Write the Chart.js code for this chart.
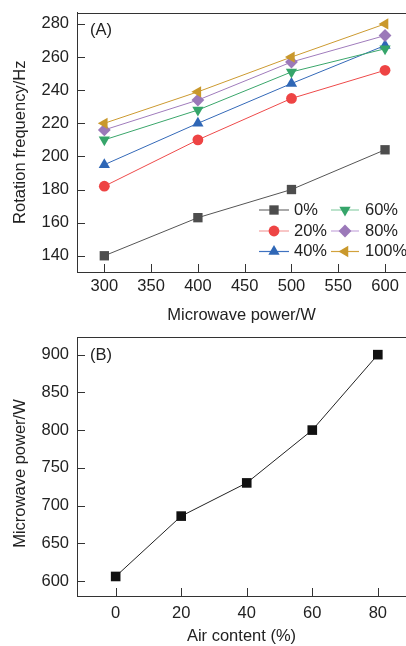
<!DOCTYPE html>
<html><head><meta charset="utf-8">
<script src="https://cdn.jsdelivr.net/npm/chart.js@4.4.1/dist/chart.umd.min.js"></script>
<style>
html,body{margin:0;padding:0;background:#fff;overflow:hidden;width:406px;height:646px;}
canvas{position:absolute;left:0;}
#ca{top:0;}
#cb{top:325px;}
</style></head><body>
<canvas id="ca" width="406" height="325"></canvas>
<canvas id="cb" width="406" height="321"></canvas>
<script>
// ---------- data ----------
const powerW = [300, 400, 500, 600];
const seriesNames = ['0%', '20%', '40%', '60%', '80%', '100%'];
const freq0 = [140, 163, 180, 204];
const freq20 = [182, 210, 235, 252];
const freq40 = [195, 220, 244, 267];
const freq60 = [210, 228, 251, 265];
const freq80 = [216, 234, 257, 273];
const freq100 = [220, 239, 260, 280];
const airContent = [0, 20, 40, 60, 80];
const reqPower = [606, 686, 730, 800, 900];
const ticksAx = [300, 350, 400, 450, 500, 550, 600];
const ticksAy = [140, 160, 180, 200, 220, 240, 260, 280];
const ticksBx = [0, 20, 40, 60, 80];
const ticksBy = [600, 650, 700, 750, 800, 850, 900];

const FONT = '"Liberation Sans", Arial, Helvetica, sans-serif';
const FS = 16.5;
Chart.defaults.font.family = FONT;
Chart.defaults.font.size = FS;
Chart.defaults.color = '#222';

const styles = [
  {color: '#4d4d4d', line: '#555555', leg: '#707070', ps: 'rect', rot: 0, r: 6.6},
  {color: '#ee4444', line: '#ee4a4a', leg: '#f4a0a0', ps: 'circle', rot: 0, r: 5.4},
  {color: '#2f67b6', line: '#3469b8', leg: '#3f72c0', ps: 'triangle', rot: 0, r: 6.5},
  {color: '#36a56a', line: '#3aa66b', leg: '#90d0aa', ps: 'triangle', rot: 180, r: 6.5},
  {color: '#9b79b9', line: '#a07cbc', leg: '#c7a9dc', ps: 'rectRot', rot: 0, r: 6.4},
  {color: '#c9982c', line: '#cc9a30', leg: '#d2a23c', ps: 'triangle', rot: -90, r: 6.5}
];
const seriesA = [freq0, freq20, freq40, freq60, freq80, freq100];

function drawMarker(ctx, style, rot, x, y, r, color) {
  ctx.save();
  ctx.fillStyle = color;
  ctx.translate(x, y);
  ctx.rotate(rot * Math.PI / 180);
  ctx.beginPath();
  if (style === 'rect') { const s = r * Math.SQRT1_2; ctx.rect(-s, -s, 2 * s, 2 * s); }
  else if (style === 'circle') { ctx.arc(0, 0, r, 0, Math.PI * 2); }
  else if (style === 'triangle') {
    for (let k = 0; k < 3; k++) { const a = k * 2 * Math.PI / 3; ctx.lineTo(Math.sin(a) * r, -Math.cos(a) * r); }
  } else if (style === 'rectRot') { ctx.moveTo(0, -r); ctx.lineTo(r, 0); ctx.lineTo(0, r); ctx.lineTo(-r, 0); }
  ctx.closePath();
  ctx.fill();
  ctx.restore();
}

function chromePlugin(label, labelY) {
  return {
    id: 'chrome',
    afterDraw(chart) {
      const {ctx, chartArea: a, scales: {x, y}} = chart;
      ctx.save();
      ctx.strokeStyle = '#333';
      ctx.lineWidth = 1;
      ctx.beginPath();
      const ty = Math.round(a.top) + 0.5;
      ctx.moveTo(a.left, ty); ctx.lineTo(chart.width, ty);
      x.ticks.forEach(t => {
        const px = Math.round(x.getPixelForValue(t.value)) + 0.5;
        ctx.moveTo(px, a.bottom); ctx.lineTo(px, a.bottom - 8);
      });
      y.ticks.forEach(t => {
        const py = Math.round(y.getPixelForValue(t.value)) + 0.5;
        ctx.moveTo(a.left, py); ctx.lineTo(a.left + 8, py);
      });
      ctx.stroke();
      ctx.fillStyle = '#222';
      ctx.font = FS + 'px ' + FONT;
      ctx.textBaseline = 'middle';
      ctx.fillText(label, 90, labelY);
      ctx.restore();
    }
  };
}

const legendPlugin = {
  id: 'insideLegend',
  afterDraw(chart) {
    const ctx = chart.ctx;
    const cols = [{x0: 259, x1: 289, mx: 274, tx: 294}, {x0: 331, x1: 359, mx: 345, tx: 365}];
    const rows = [210, 231, 251.5];
    chart.data.datasets.forEach((ds, i) => {
      const c = cols[Math.floor(i / 3)], yy = rows[i % 3];
      const st = styles[i];
      ctx.save();
      ctx.strokeStyle = st.leg;
      ctx.lineWidth = 1.2;
      ctx.beginPath(); ctx.moveTo(c.x0, yy); ctx.lineTo(c.x1, yy); ctx.stroke();
      drawMarker(ctx, st.ps, st.rot, c.mx, yy, st.r, st.color);
      ctx.fillStyle = '#222';
      ctx.font = FS + 'px ' + FONT;
      ctx.textBaseline = 'middle';
      ctx.fillText(ds.label, c.tx, yy);
      ctx.restore();
    });
  }
};

function zeroPad(s) { s.paddingLeft = 0; s.paddingRight = 0; s.paddingTop = 0; s.paddingBottom = 0; }

function axisX(min, max, ticks, title, pad, height) {
  return {
    type: 'linear', min, max,
    afterBuildTicks: s => { s.ticks = ticks.map(v => ({value: v})); },
    afterFit: s => { s.height = height; zeroPad(s); },
    grid: {display: false, drawTicks: false},
    border: {display: true, color: '#333', width: 1},
    ticks: {padding: pad, color: '#222', maxRotation: 0, autoSkip: false},
    title: {display: true, text: title, color: '#222', padding: {top: 0, bottom: 0}, font: {size: FS, lineHeight: 1.1}}
  };
}
function axisY(min, max, ticks, title) {
  return {
    type: 'linear', min, max,
    afterBuildTicks: s => { s.ticks = ticks.map(v => ({value: v})); },
    afterFit: s => { s.width = 77; zeroPad(s); },
    grid: {display: false, drawTicks: false},
    border: {display: true, color: '#333', width: 1},
    ticks: {padding: 8, color: '#222', autoSkip: false},
    title: {display: true, text: title, color: '#222', padding: {top: 10.5, bottom: 0}, font: {size: FS, lineHeight: 1.2}}
  };
}

// ---------- chart A ----------
new Chart(document.getElementById('ca'), {
  type: 'line',
  data: {
    datasets: seriesA.map((vals, i) => ({
      label: seriesNames[i],
      data: powerW.map((p, k) => ({x: p, y: vals[k]})),
      borderColor: styles[i].line,
      backgroundColor: styles[i].color,
      pointBackgroundColor: styles[i].color,
      borderWidth: 1,
      pointStyle: styles[i].ps,
      pointRotation: styles[i].rot,
      pointRadius: styles[i].r,
      pointBorderWidth: 0,
      pointHoverRadius: styles[i].r,
      order: 6 - i,
      clip: false,
      tension: 0
    }))
  },
  options: {
    responsive: false,
    animation: false,
    layout: {autoPadding: false, padding: {top: 12.5, left: 0, right: 0, bottom: 0}},
    plugins: {legend: {display: false}, tooltip: {enabled: false}},
    scales: {
      x: axisX(270.8, 622.4, ticksAx, 'Microwave power/W', 5, 53),
      y: axisY(130.2, 286.9, ticksAy, 'Rotation frequency/Hz')
    }
  },
  plugins: [chromePlugin('(A)', 30), legendPlugin]
});

// ---------- chart B ----------
new Chart(document.getElementById('cb'), {
  type: 'line',
  data: {
    datasets: [{
      label: 'Microwave power',
      data: airContent.map((a, k) => ({x: a, y: reqPower[k]})),
      borderColor: '#222',
      backgroundColor: '#111',
      pointBackgroundColor: '#111',
      borderWidth: 1,
      pointStyle: 'rect',
      pointRadius: 6.8,
      pointBorderWidth: 0,
      pointHoverRadius: 6.8,
      clip: false,
      tension: 0
    }]
  },
  options: {
    responsive: false,
    animation: false,
    layout: {autoPadding: false, padding: {top: 12.3, left: 0, right: 0, bottom: 0}},
    plugins: {legend: {display: false}, tooltip: {enabled: false}},
    scales: {
      x: axisX(-11.8, 88.6, ticksBx, 'Air content (%)', 8, 50),
      y: axisY(580.1, 923, ticksBy, 'Microwave power/W   ')
    }
  },
  plugins: [chromePlugin('(B)', 30)]
});
</script>
</body></html>
